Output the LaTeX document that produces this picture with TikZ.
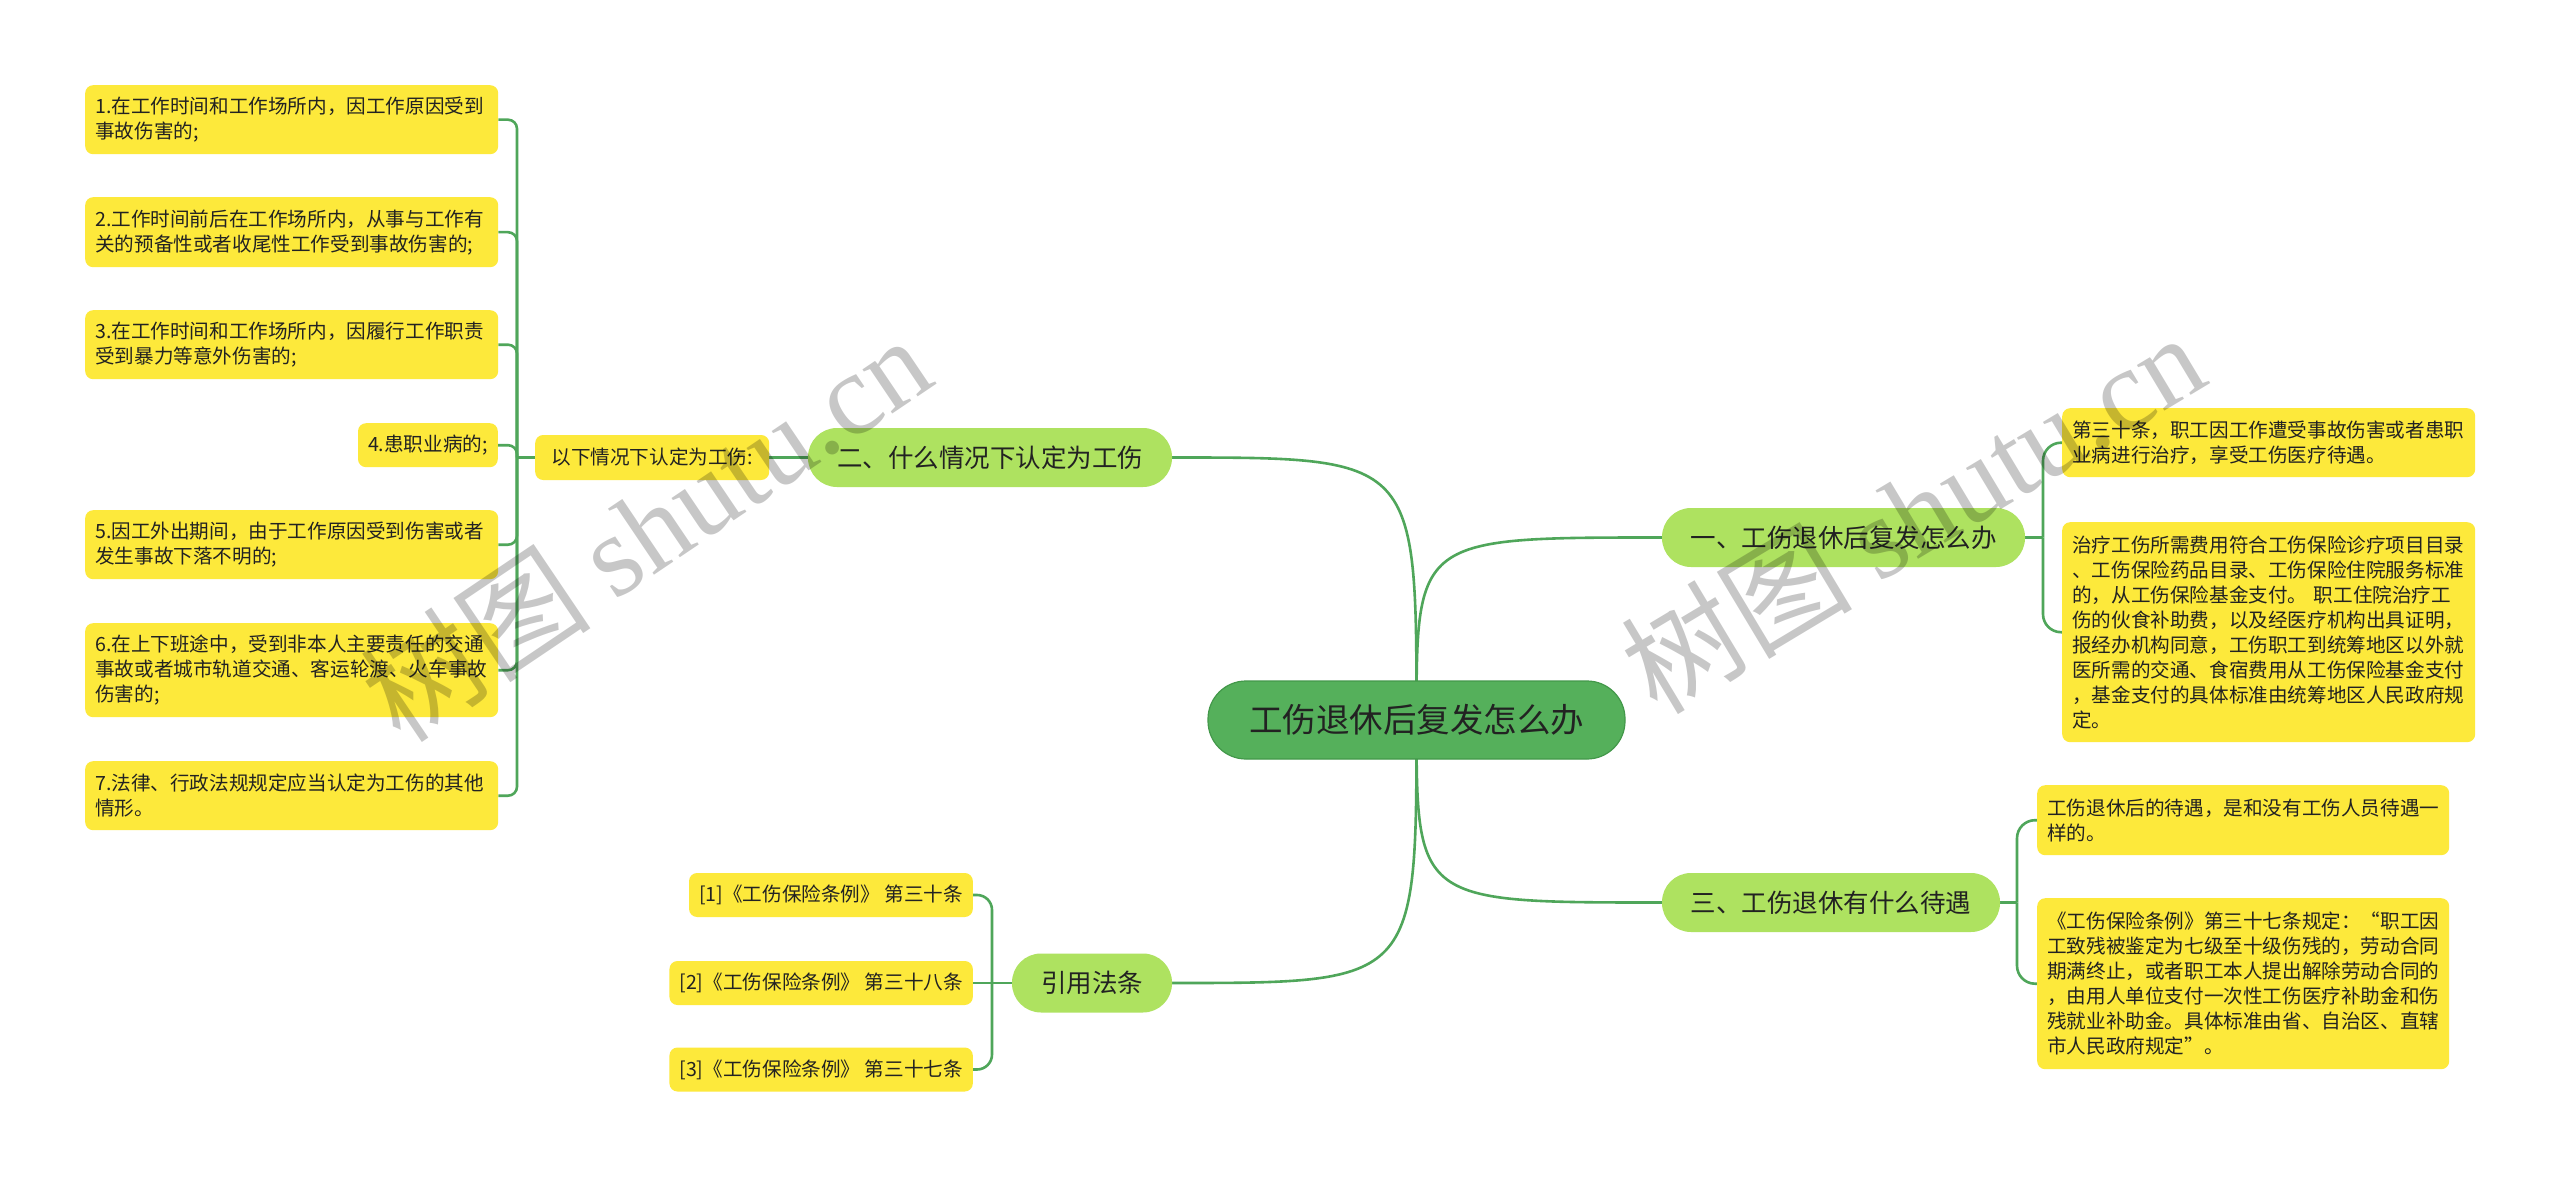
\documentclass[tikz,border=0pt]{standalone}
\usepackage{fontspec}
\setmainfont{Noto Sans CJK SC}
\newfontfamily\wmlatin{Liberation Serif}
\usetikzlibrary{backgrounds}
\definecolor{yfill}{HTML}{FDE93B}
\definecolor{bfill}{HTML}{AEE260}
\definecolor{cfill}{HTML}{55B05B}
\definecolor{cdraw}{HTML}{43984A}
\definecolor{lineg}{HTML}{4FA65A}
\definecolor{txt}{HTML}{222222}
\tikzset{
  conn/.style={draw=lineg, line width=2.6pt},
  ybox/.style={fill=yfill, rounded corners=8pt, inner xsep=10pt, inner ysep=0pt, text=txt,
    font=\fontsize{19.6}{25}\selectfont, align=left},
  bnode/.style={fill=bfill, rounded corners=29pt, minimum height=59pt, inner sep=0pt, text=txt,
    font=\fontsize{25.5}{30}\selectfont},
  cnode/.style={fill=cfill, draw=cdraw, line width=1.2pt, rounded corners=38pt, minimum width=417pt,
    minimum height=78pt, inner sep=0pt, text=txt, font=\fontsize{33.5}{40}\selectfont},
  wm/.style={text=black, text opacity=0.22, font=\fontsize{116}{120}\selectfont, inner sep=0pt},
}
\begin{document}
\begin{tikzpicture}[x=1pt,y=-1pt]
\useasboundingbox (0,0) rectangle (2560,1177);

% center and branches
\node[cnode] (c) at (1416.5,720) {工伤退休后复发怎么办};
\node[bnode, minimum width=363pt] (b1) at (1843.5,537.5) {一、工伤退休后复发怎么办};
\node[bnode, minimum width=364pt] (b2) at (990,457.5) {二、什么情况下认定为工伤};
\node[bnode, minimum width=338pt] (b3) at (1831,902.5) {三、工伤退休有什么待遇};
\node[bnode, minimum width=160pt] (bq) at (1092,983) {引用法条};

% left group
\node[ybox, minimum height=45pt, minimum width=234pt, anchor=west] (l0) at (535,457.5) {以下情况下认定为工伤:};
\node[ybox, text width=393pt, minimum height=69pt, anchor=north west] (l1) at (85,85)
  {1.在工作时间和工作场所内，因工作原因受到\\事故伤害的;};
\node[ybox, text width=393pt, minimum height=70pt, anchor=north west] (l2) at (85,197)
  {2.工作时间前后在工作场所内，从事与工作有\\关的预备性或者收尾性工作受到事故伤害的;};
\node[ybox, text width=393pt, minimum height=69pt, anchor=north west] (l3) at (85,310)
  {3.在工作时间和工作场所内，因履行工作职责\\受到暴力等意外伤害的;};
\node[ybox, minimum height=44pt, anchor=north east] (l4) at (498,423) {4.患职业病的;};
\node[ybox, text width=393pt, minimum height=69pt, anchor=north west] (l5) at (85,510)
  {5.因工外出期间，由于工作原因受到伤害或者\\发生事故下落不明的;};
\node[ybox, text width=393pt, minimum height=94pt, anchor=north west] (l6) at (85,623)
  {6.在上下班途中，受到非本人主要责任的交通\\事故或者城市轨道交通、客运轮渡、火车事故\\伤害的;};
\node[ybox, text width=393pt, minimum height=69pt, anchor=north west] (l7) at (85,761)
  {7.法律、行政法规规定应当认定为工伤的其他\\情形。};

% right group 1
\node[ybox, text width=393pt, minimum height=69pt, anchor=north west] (r1a) at (2062,408)
  {第三十条，职工因工作遭受事故伤害或者患职\\业病进行治疗，享受工伤医疗待遇。};
\node[ybox, text width=393pt, minimum height=220pt, anchor=north west] (r1b) at (2062,522)
  {治疗工伤所需费用符合工伤保险诊疗项目目录\\、工伤保险药品目录、工伤保险住院服务标准\\的，从工伤保险基金支付。~职工住院治疗工\\伤的伙食补助费，以及经医疗机构出具证明，\\报经办机构同意，工伤职工到统筹地区以外就\\医所需的交通、食宿费用从工伤保险基金支付\\，基金支付的具体标准由统筹地区人民政府规\\定。};

% right group 3
\node[ybox, text width=392pt, minimum height=70pt, anchor=north west] (r3a) at (2037,785)
  {工伤退休后的待遇，是和没有工伤人员待遇一\\样的。};
\node[ybox, text width=392pt, minimum height=171pt, anchor=north west] (r3b) at (2037,898)
  {《工伤保险条例》第三十七条规定：“职工因\\工致残被鉴定为七级至十级伤残的，劳动合同\\期满终止，或者职工本人提出解除劳动合同的\\，由用人单位支付一次性工伤医疗补助金和伤\\残就业补助金。具体标准由省、自治区、直辖\\市人民政府规定”。};

% references
\node[ybox, minimum height=44pt, anchor=east] (f1) at (973,895) {[1]《工伤保险条例》~第三十条};
\node[ybox, minimum height=44pt, anchor=east] (f2) at (973,983) {[2]《工伤保险条例》~第三十八条};
\node[ybox, minimum height=44pt, anchor=east] (f3) at (973,1069.5) {[3]《工伤保险条例》~第三十七条};

% junctions
\coordinate (jL) at (517,457.5);
\coordinate (jR1) at (2043,537.5);
\coordinate (jR3) at (2017,902.5);
\coordinate (jB) at (992,983);

\begin{pgfonlayer}{background}
\fill[white] (0,0) rectangle (2560,1177);
% main curves
\draw[conn] (c.center) .. controls (c.center |- b2.east) .. (b2.east);
\draw[conn] (c.center) .. controls (c.center |- b1.west) .. (b1.west);
\draw[conn] (c.center) .. controls (c.center |- b3.west) .. (b3.west);
\draw[conn] (c.center) .. controls (c.center |- bq.east) .. (bq.east);
% left
\draw[conn] (b2.west) -- (l0.east);
\draw[conn] (l0.west) -- (jL);
\foreach \n in {l1,l2,l3,l4,l5,l6,l7}
  \draw[conn, rounded corners=9pt] (jL) |- (\n.east);
% right 1
\draw[conn] (b1.east) -- (jR1);
\foreach \n in {r1a,r1b}
  \draw[conn, rounded corners=18pt] (jR1) |- (\n.west);
% right 3
\draw[conn] (b3.east) -- (jR3);
\foreach \n in {r3a,r3b}
  \draw[conn, rounded corners=18pt] (jR3) |- (\n.west);
% references
\draw[conn] (bq.west) -- (jB) -- (f2.east);
\foreach \n in {f1,f3}
  \draw[conn, rounded corners=15pt] (jB) |- (\n.east);
\end{pgfonlayer}

% watermarks
\node[wm, rotate=34] (wm1) at (645,528) {树图 {\wmlatin shutu.cn}};
\node[wm, rotate=31] (wm2) at (1912,512) {树图 {\wmlatin shutu.cn}};
\end{tikzpicture}
\end{document}
